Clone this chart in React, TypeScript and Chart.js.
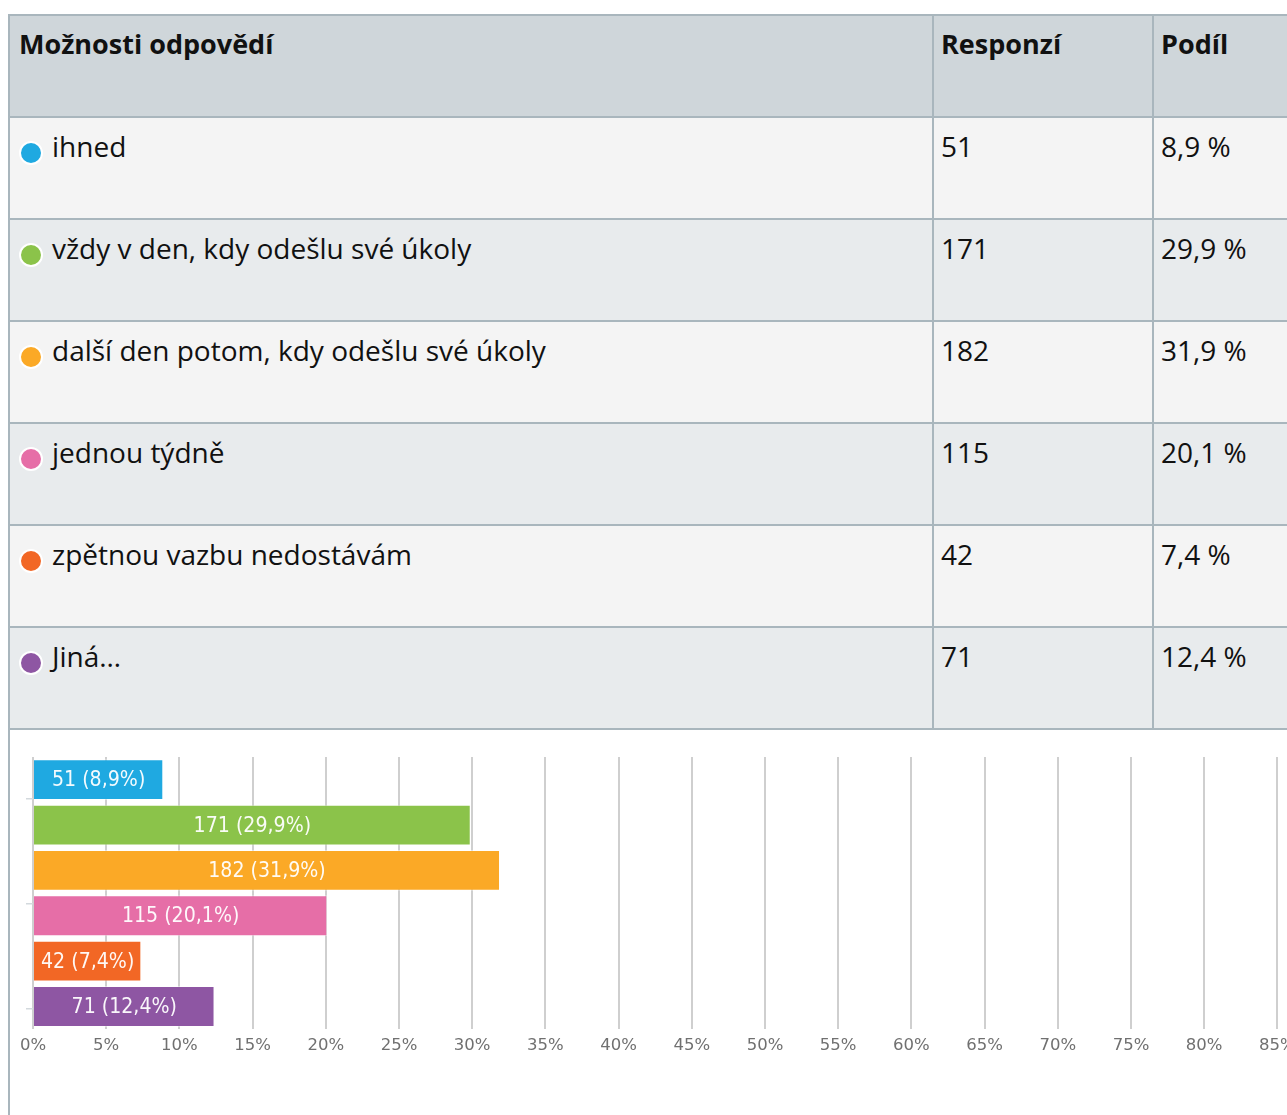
import React, { useEffect, useRef } from "react";
import { Chart, registerables } from "chart.js";

Chart.register(...registerables);

const categories = [
  "ihned",
  "vždy v den, kdy odešlu své úkoly",
  "další den potom, kdy odešlu své úkoly",
  "jednou týdně",
  "zpětnou vazbu nedostávám",
  "Jiná…",
];
const responses = [51, 171, 182, 115, 42, 71];
const shares = [8.9, 29.9, 31.9, 20.1, 7.4, 12.4];
const colors = ["#1fa9e1", "#8bc34a", "#fba926", "#e66ea7", "#f26725", "#8e56a3"];
const headers = ["Možnosti odpovědí", "Responzí", "Podíl"];
const sideTicks = [1, 6, 11];

const fmt = (v: number) => v.toFixed(1).replace(".", ",");
const barLabels = responses.map((r, i) => `${r} (${fmt(shares[i])}%)`);

const barLabelPlugin = {
  id: "barLabels",
  afterDatasetsDraw(chart: any) {
    const ctx = chart.ctx;
    const meta = chart.getDatasetMeta(0);
    ctx.save();
    ctx.font = '19px "DejaVu Sans"';
    ctx.fillStyle = "rgba(255,255,255,0.95)";
    ctx.textAlign = "center";
    ctx.textBaseline = "middle";
    meta.data.forEach((bar: any, i: number) => {
      const p = bar.getProps(["x", "y", "base"], true);
      ctx.save();
      ctx.translate((p.x + p.base) / 2, p.y + 1);
      ctx.scale(1, 1.12);
      ctx.fillText(barLabels[i], 0, 0);
      ctx.restore();
    });
    ctx.restore();
  },
};

const BORDER = "#a9b6bd";
const rowBg = ["#f4f4f4", "#e8ebed"];

function Cell({ w, children, last, bold, padL }: any) {
  return (
    <div
      style={{
        width: w,
        height: 100,
        boxSizing: "border-box",
        padding: `9px 9px 9px ${padL}px`,
        borderRight: last ? "none" : `2px solid ${BORDER}`,
        fontWeight: bold ? 700 : 400,
        fontSize: bold ? 27 : 28,
        display: "flex",
        alignItems: "flex-start",
        whiteSpace: "nowrap",
      }}
    >
      {children}
    </div>
  );
}

export default function App() {
  const ref = useRef<HTMLCanvasElement | null>(null);

  useEffect(() => {
    document.body.style.margin = "0";
    const chart = new Chart(ref.current as HTMLCanvasElement, {
      type: "bar",
      data: {
        labels: categories,
        datasets: [
          {
            data: shares,
            backgroundColor: colors,
            borderColor: "rgba(255,255,255,0.45)",
            borderWidth: 1,
            barPercentage: 0.9,
            categoryPercentage: 1,
          },
        ],
      },
      options: {
        indexAxis: "y",
        animation: false,
        responsive: false,
        maintainAspectRatio: false,
        layout: { padding: { top: 26, left: 16, right: 33, bottom: 52 } },
        plugins: { legend: { display: false }, tooltip: { enabled: false } },
        scales: {
          x: {
            type: "linear",
            min: 0,
            max: 100,
            border: { display: false },
            grid: { color: "#cfcfcf", lineWidth: 2, drawTicks: false },
            ticks: {
              stepSize: 5,
              padding: 7,
              color: "#707070",
              font: { family: '"DejaVu Sans"', size: 16.5 },
              callback: (v: any) => `${v}%`,
            },
          },
          y: {
            type: "category",
            display: false,
          },
          y2: {
            type: "linear",
            position: "left",
            min: 0,
            max: 12,
            border: { display: false },
            grid: {
              drawOnChartArea: false,
              tickLength: 7,
              lineWidth: 1.5,
              tickColor: (c: any) =>
                c.tick && sideTicks.includes(c.tick.value) ? "#d3d9dd" : "rgba(0,0,0,0)",
            },
            ticks: { display: false, stepSize: 1 },
          },
        },
      },
      plugins: [barLabelPlugin],
    });
    return () => chart.destroy();
  }, []);

  const colW = [924, 220, 220];
  const padL = [9, 7, 7];

  return (
    <div
      style={{
        position: "fixed",
        left: 0,
        top: 0,
        width: 1287,
        height: 1115,
        overflow: "hidden",
        background: "#fff",
      }}
    >
      <div
        style={{
          position: "absolute",
          left: 8,
          top: 14,
          width: 1700,
          height: 1200,
          borderLeft: `2px solid ${BORDER}`,
          borderTop: `2px solid ${BORDER}`,
          fontFamily: '"Open Sans", sans-serif',
          fontSize: 28,
          color: "#111",
        }}
      >
        <div style={{ display: "flex", background: "#cfd6da", borderBottom: `2px solid ${BORDER}` }}>
          {headers.map((h, i) => (
            <Cell key={h} w={colW[i]} padL={padL[i]} bold last={i === 2}>
              {h}
            </Cell>
          ))}
        </div>
        {categories.map((c, r) => (
          <div
            key={c}
            style={{ display: "flex", background: rowBg[r % 2], borderBottom: `2px solid ${BORDER}` }}
          >
            <Cell w={colW[0]} padL={padL[0]}>
              <span
                style={{
                  display: "inline-block",
                  width: 20,
                  height: 20,
                  borderRadius: "50%",
                  background: colors[r],
                  border: "2px solid #fff",
                  boxSizing: "content-box",
                  marginTop: 14,
                  marginRight: 9,
                  flex: "none",
                }}
              />
              <span>{c}</span>
            </Cell>
            <Cell w={colW[1]} padL={padL[1]}>
              {responses[r]}
            </Cell>
            <Cell w={colW[2]} padL={padL[2]} last>
              {fmt(shares[r])} %
            </Cell>
          </div>
        ))}
      </div>
      <canvas
        ref={ref}
        width={1520}
        height={384}
        style={{ position: "absolute", left: 10, top: 731, width: 1520, height: 384 }}
      />
    </div>
  );
}
